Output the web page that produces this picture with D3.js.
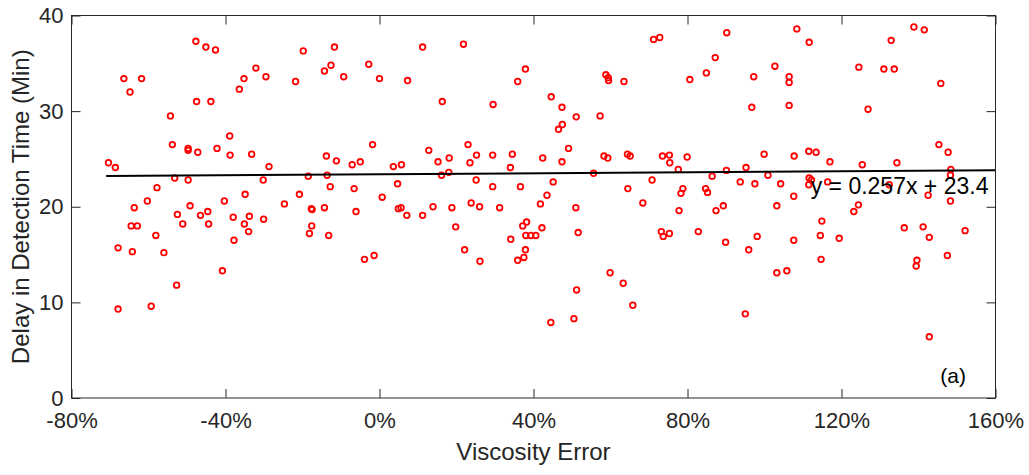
<!DOCTYPE html>
<html>
<head>
<meta charset="utf-8">
<script src="https://cdn.jsdelivr.net/npm/d3@7"></script>
<style>
  body { margin: 0; background: #fff; }
  text { font-family: "Liberation Sans", Arial, Helvetica, sans-serif; fill: #262626; }
</style>
</head>
<body>
<div id="chart"></div>
<script>
// viscosity error (%) and delay in detection time (min)
var viscErr = [
  -47.7, -45.1, -42.6, -66.4, -61.8, -64.8, -32.1, -35.2, -29.5, -36.4,
  -47.5, -43.8, -54.3, -38.9, -53.8, -49.7, -49.7, -47.2, -42.2, -38.8,
  -33.2, -70.4, -68.6, -28.7, -53.2, -49.7, -30.2, -57.8, -34.9, -60.3,
  -40.3, -63.7, -49.2, -52.5, -46.5, -44.6, -38.0, -33.8, -30.1, -35.1,
  -34.0, -64.5, -62.9, -51.1, -44.4, -58.1, -37.8, -67.9, -64.2, -56.0,
  -40.8, -52.7, -67.9, -59.3, -19.8, -11.7, 11.2, -21.8, -14.3, -12.6,
  -9.3, -2.8, 0.0, 7.3, 16.3, -1.8, -13.8, -11.2, -7.1, -5.0,
  3.6, 5.7, 12.8, 15.2, 18.1, -18.5, -13.6, 16.1, 18.0, 4.7,
  -12.8, -6.6, -20.8, 0.7, -24.7, -17.7, -17.5, -14.3, -6.1, 4.9,
  5.6, 13.9, 18.8, 7.1, 11.2, 19.8, -17.6, -18.2, -13.2, -3.9,
  -1.4, 21.8, 37.9, 35.9, 58.8, 59.4, 59.5, 63.5, 29.5, 44.6,
  47.4, 51.1, 57.3, 47.5, 46.5, 23.0, 25.2, 23.5, 29.4, 34.5,
  34.0, 42.4, 47.4, 49.1, 58.3, 59.3, 64.4, 65.1, 55.6, 25.1,
  29.4, 36.6, 45.1, 43.5, 64.5, 23.8, 26.0, 31.2, 41.8, 51.0,
  68.4, 37.2, 38.2, 42.2, 38.0, 39.3, 40.6, 34.1, 51.6, 22.1,
  26.1, 37.9, 37.5, 35.9, 59.9, 63.3, 51.2, 65.8, 50.5, 44.5,
  71.2, 72.8, 90.2, 108.4, 111.6, 87.2, 84.9, 80.6, 102.7, 97.2,
  106.4, 106.4, 96.7, 106.4, 73.5, 75.3, 75.4, 79.9, 77.6, 90.1,
  95.2, 99.9, 107.7, 111.5, 113.4, 117.0, 86.4, 100.9, 70.8, 93.7,
  97.5, 104.2, 111.6, 112.2, 111.5, 116.4, 78.8, 78.3, 84.7, 85.2,
  107.6, 89.3, 103.2, 77.8, 87.4, 114.9, 73.2, 73.7, 75.3, 82.8,
  89.9, 98.1, 95.9, 107.6, 114.5, 114.7, 103.2, 105.8, 95.0, 138.8,
  141.5, 132.9, 124.5, 131.0, 133.7, 145.8, 126.9, 145.3, 147.7, 125.4,
  134.4, 148.4, 148.3, 132.4, 142.5, 148.3, 124.4, 123.2, 119.4, 136.3,
  141.2, 142.8, 152.1, 147.5, 139.6, 139.4, 142.8
];
var delayMin = [
  37.3, 36.7, 36.4, 33.4, 33.4, 32.0, 34.5, 33.4, 33.6, 32.3,
  31.0, 31.0, 29.5, 27.4, 26.5, 26.1, 25.9, 25.7, 26.1, 25.4,
  25.5, 24.6, 24.1, 24.2, 23.0, 22.8, 22.8, 22.0, 21.3, 20.6,
  20.6, 19.9, 20.1, 19.2, 19.1, 19.5, 18.9, 19.0, 18.7, 18.2,
  17.4, 18.0, 18.0, 18.2, 18.2, 17.0, 16.5, 15.7, 15.3, 15.2,
  13.3, 11.8, 9.3, 9.6, 36.3, 36.7, 36.7, 33.1, 34.2, 34.8,
  33.6, 34.9, 33.4, 33.2, 31.0, 26.5, 25.3, 24.8, 24.4, 24.7,
  24.2, 24.4, 25.9, 24.7, 25.1, 23.2, 23.3, 23.3, 23.6, 22.4,
  22.1, 21.9, 21.3, 21.0, 20.3, 19.8, 19.7, 19.9, 19.5, 19.8,
  19.9, 20.0, 19.9, 19.1, 19.1, 17.9, 18.0, 17.2, 17.0, 14.5,
  14.9, 37.0, 34.4, 33.1, 33.8, 33.5, 33.2, 33.1, 30.7, 31.5,
  30.4, 29.4, 29.5, 28.6, 28.1, 26.5, 25.4, 24.6, 25.4, 25.5,
  24.1, 25.1, 24.7, 26.1, 25.3, 25.1, 25.5, 25.3, 23.5, 22.8,
  22.1, 22.1, 22.6, 21.2, 21.9, 20.4, 20.0, 19.9, 20.3, 19.9,
  20.4, 18.0, 18.4, 17.8, 17.0, 17.0, 17.0, 16.6, 17.3, 15.5,
  14.3, 15.5, 14.7, 14.4, 13.1, 12.0, 11.3, 9.7, 8.3, 7.9,
  37.5, 37.7, 38.2, 38.6, 37.2, 35.6, 34.0, 33.3, 34.7, 33.6,
  33.6, 33.0, 30.4, 30.6, 25.3, 25.4, 24.6, 25.2, 23.9, 23.8,
  24.1, 25.5, 25.3, 25.8, 25.7, 24.7, 23.2, 23.3, 22.8, 22.6,
  22.4, 22.4, 23.0, 22.8, 22.3, 22.6, 21.9, 21.4, 21.9, 21.5,
  21.1, 20.1, 20.1, 19.6, 19.6, 18.5, 17.4, 16.9, 17.2, 17.4,
  16.3, 16.9, 15.5, 16.5, 17.0, 14.5, 13.1, 13.3, 8.8, 38.8,
  38.5, 37.4, 34.6, 34.4, 34.4, 32.9, 30.2, 26.5, 25.7, 24.4,
  24.6, 23.9, 23.3, 22.3, 21.2, 20.6, 20.2, 19.5, 16.7, 17.8,
  17.9, 16.8, 17.5, 14.9, 14.4, 13.8, 6.4
];

var xTicks = [-80, -40, 0, 40, 80, 120, 160];
var yTicks = [0, 10, 20, 30, 40];

// linear fit, x as a fraction
var fitSlope = 0.257;
var fitIntercept = 23.4;
var fitRange = [-71, 160];
var fitLabel = "y = 0.257x + 23.4";
var panelLabel = "(a)";

var width = 1029, height = 475;
var plotL = 71.5, plotR = 995.5, plotT = 15.5, plotB = 398;
var ink = "#262626";

var svg = d3.select("#chart").append("svg")
    .attr("width", width)
    .attr("height", height);

var x = d3.scaleLinear().domain([-80, 160]).range([plotL, plotR]);
var y = d3.scaleLinear().domain([0, 40]).range([plotB, plotT]);

// points
svg.append("g").selectAll("circle")
    .data(viscErr)
    .join("circle")
    .attr("cx", function(d) { return x(d); })
    .attr("cy", function(d, i) { return y(delayMin[i]); })
    .attr("r", 2.8)
    .attr("fill", "none")
    .attr("stroke", "#ff0000")
    .attr("stroke-width", 1.8);

// fitted line
svg.append("line")
    .attr("x1", x(fitRange[0]))
    .attr("y1", y(fitIntercept + fitSlope * fitRange[0] / 100))
    .attr("x2", x(fitRange[1]))
    .attr("y2", y(fitIntercept + fitSlope * fitRange[1] / 100))
    .attr("stroke", "#000")
    .attr("stroke-width", 2);

// axes (ticks point inward, box on)
var xAxis = svg.append("g")
    .attr("transform", "translate(0," + plotB + ")")
    .call(d3.axisBottom(x).tickValues(xTicks).tickSize(-9).tickPadding(14)
        .tickFormat(function(d) { return d + "%"; }));
var xTop = svg.append("g")
    .attr("transform", "translate(0," + plotT + ")")
    .call(d3.axisTop(x).tickValues(xTicks).tickSize(-9).tickFormat(""));
var yAxis = svg.append("g")
    .attr("transform", "translate(" + plotL + ",0)")
    .call(d3.axisLeft(y).tickValues(yTicks).tickSize(-9).tickPadding(8));
var yRight = svg.append("g")
    .attr("transform", "translate(" + plotR + ",0)")
    .call(d3.axisRight(y).tickValues(yTicks).tickSize(-9).tickFormat(""));

[xAxis, xTop, yAxis, yRight].forEach(function(g) {
    g.select(".domain").remove();
    g.selectAll("line").attr("stroke", ink);
    g.selectAll("text").attr("fill", ink).style("font-size", "22px")
        .style("font-family", '"Liberation Sans", Arial, sans-serif');
});

svg.append("rect")
    .attr("x", plotL).attr("y", plotT)
    .attr("width", plotR - plotL).attr("height", plotB - plotT)
    .attr("fill", "none")
    .attr("stroke", ink)
    .attr("stroke-width", 1);

// labels
svg.append("text")
    .attr("x", (plotL + plotR) / 2)
    .attr("y", 460)
    .attr("text-anchor", "middle")
    .style("font-size", "24px")
    .text("Viscosity Error");

svg.append("text")
    .attr("transform", "translate(29," + ((plotT + plotB) / 2) + ") rotate(-90)")
    .attr("text-anchor", "middle")
    .style("font-size", "24px")
    .text("Delay in Detection Time (Min)");

svg.append("text")
    .attr("x", x(112))
    .attr("y", y(21.3))
    .style("font-size", "23px")
    .style("fill", "#000")
    .text(fitLabel);

svg.append("text")
    .attr("x", x(149))
    .attr("y", y(1.6))
    .attr("text-anchor", "middle")
    .style("font-size", "21px")
    .style("fill", "#000")
    .text(panelLabel);
</script>
</body>
</html>
